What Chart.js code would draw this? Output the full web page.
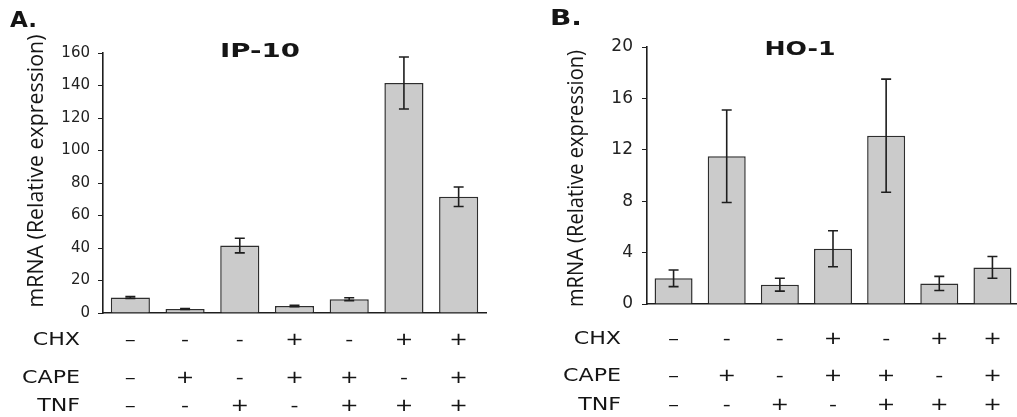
<!DOCTYPE html>
<html lang="en">
<head>
    <meta charset="UTF-8">
    <title>IP-10 / HO-1 mRNA</title>
    <script src="https://cdn.jsdelivr.net/npm/chart.js"></script>
    <style>
        html, body { margin: 0; padding: 0; background: #fff; overflow: hidden; }
        #wrap { position: relative; width: 1017px; height: 417px; overflow: hidden; }
        canvas { position: absolute; top: 0; }
        #chartA { left: 0; }
        #chartB { left: 500px; }
    </style>
</head>
<body>
<div id="wrap">
    <canvas id="chartA" width="500" height="417"></canvas>
    <canvas id="chartB" width="540" height="417"></canvas>
</div>

<script>
    // conditions (same for both panels)
    const categories = ['1', '2', '3', '4', '5', '6', '7'];
    const rowLabels = ['CHX', 'CAPE', 'TNF'];
    const chx  = ['–', '-', '-', '+', '-', '+', '+'];
    const cape = ['–', '+', '-', '+', '+', '-', '+'];
    const tnf  = ['–', '-', '+', '-', '+', '+', '+'];

    // panel A: IP-10
    const ip10Values = [9.5, 2.5, 41.5, 4.3, 8.5, 141.5, 71.5];
    const ip10Errors = [0.6, 0.3, 4.5, 0.4, 0.9, 16, 6];
    const ip10Ticks = { max: 160, step: 20 };

    // panel B: HO-1
    const ho1Values = [2.0, 11.5, 1.5, 4.3, 13.1, 1.6, 2.85];
    const ho1Errors = [0.65, 3.6, 0.5, 1.4, 4.4, 0.55, 0.85];
    const ho1Ticks = { max: 20, step: 4 };

    const ink = '#151515';

    // draw text stretched to a given width
    function fitText(ctx, text, x, y, width, align) {
        const w = ctx.measureText(text).width;
        ctx.save();
        ctx.translate(x, y);
        ctx.scale(width / w, 1);
        ctx.textAlign = align;
        ctx.fillText(text, 0, 0);
        ctx.restore();
    }

    // error bars, sign table and labels
    function decorPlugin(d) {
        return {
            id: 'decor',
            afterDatasetsDraw: (chart) => {
                const { ctx, scales: { x, y } } = chart;
                const ds = chart.data.datasets[0];
                ctx.save();
                ctx.strokeStyle = '#1e1e1e';
                ctx.lineWidth = 1.6;
                ds.data.forEach((v, i) => {
                    const e = d.errors[i];
                    const cx = x.getPixelForValue(i);
                    const top = y.getPixelForValue(v + e);
                    const bot = y.getPixelForValue(v - e);
                    ctx.beginPath();
                    ctx.moveTo(cx, top); ctx.lineTo(cx, bot);
                    ctx.moveTo(cx - 5, top); ctx.lineTo(cx + 5, top);
                    ctx.moveTo(cx - 5, bot); ctx.lineTo(cx + 5, bot);
                    ctx.stroke();
                });
                ctx.restore();
            },
            afterDraw: (chart) => {
                const { ctx, scales: { x } } = chart;
                ctx.save();
                ctx.fillStyle = ink;
                ctx.textBaseline = 'middle';

                // panel letter
                ctx.font = 'bold 21px "DejaVu Sans"';
                fitText(ctx, d.letter, d.letterX, d.letterY, d.letterW, 'left');

                // gene title
                ctx.font = 'bold 20px "DejaVu Sans"';
                fitText(ctx, d.title, d.titleX, d.titleY, d.titleW, 'center');

                // y axis title
                ctx.font = '21px "Open Sans"';
                ctx.textBaseline = 'alphabetic';
                const yt = 'mRNA (Relative expression)';
                const w = ctx.measureText(yt).width;
                ctx.save();
                ctx.translate(d.yTitleX, d.yTitleY);
                ctx.rotate(-Math.PI / 2);
                ctx.scale(d.yTitleLen / w, 1);
                ctx.textAlign = 'center';
                ctx.fillText(yt, 0, 0);
                ctx.restore();

                // treatment table
                ctx.font = '18px "DejaVu Sans"';
                ctx.textBaseline = 'middle';
                const s = 58 / ctx.measureText('CAPE').width;
                const rows = [chx, cape, tnf];
                rows.forEach((row, r) => {
                    const ry = d.rowY[r];
                    ctx.save();
                    ctx.translate(d.labelRight, ry);
                    ctx.scale(s, 1);
                    ctx.textAlign = 'right';
                    ctx.fillText(rowLabels[r], 0, 0);
                    ctx.restore();
                    row.forEach((sign, i) => {
                        ctx.save();
                        ctx.translate(x.getPixelForValue(i), ry);
                        ctx.scale(s, 1);
                        ctx.textAlign = 'center';
                        ctx.fillText(sign, 0, 0);
                        ctx.restore();
                    });
                });
                ctx.restore();
            }
        };
    }

    function makeChart(id, values, ticks, layout, tickFont, tickPad, decor) {
        return new Chart(document.getElementById(id), {
            type: 'bar',
            data: {
                labels: categories,
                datasets: [{
                    data: values,
                    backgroundColor: '#cbcbcb',
                    borderColor: '#2e2e2e',
                    borderWidth: 1.5,
                    barPercentage: 0.715,
                    categoryPercentage: 1
                }]
            },
            options: {
                responsive: false,
                animation: false,
                layout: { padding: layout.padding },
                plugins: { legend: { display: false }, tooltip: { enabled: false } },
                scales: {
                    x: {
                        grid: { display: true, drawOnChartArea: false, drawTicks: false },
                        border: { display: true, color: '#1e1e1e', width: 1.6 },
                        ticks: { display: false },
                        afterFit: (scale) => { scale.height = 0; }
                    },
                    y: {
                        min: 0,
                        max: ticks.max,
                        grid: { drawOnChartArea: false, drawTicks: true, tickLength: 5, color: '#1e1e1e' },
                        border: { display: true, color: '#1e1e1e', width: 1.6 },
                        ticks: {
                            stepSize: ticks.step,
                            color: '#222',
                            padding: tickPad,
                            font: { family: 'DejaVu Sans', size: tickFont }
                        },
                        afterFit: (scale) => { scale.width = layout.yWidth; }
                    }
                }
            },
            plugins: [decorPlugin(decor)]
        });
    }

    makeChart('chartA', ip10Values, ip10Ticks,
        { padding: { top: 53, bottom: 104, right: 14, left: 0 }, yWidth: 103 }, 15, 8, {
            errors: ip10Errors,
            letter: 'A.', letterX: 10, letterY: 22, letterW: 27,
            title: 'IP-10', titleX: 260, titleY: 51.5, titleW: 80,
            yTitleX: 43, yTitleY: 171, yTitleLen: 273,
            labelRight: 80, rowY: [340.5, 378, 406.5]
        });

    makeChart('chartB', ho1Values, ho1Ticks,
        { padding: { top: 47, bottom: 113, right: 21, left: 0 }, yWidth: 147 }, 17, 9, {
            errors: ho1Errors,
            letter: 'B.', letterX: 50, letterY: 20, letterW: 32,
            title: 'HO-1', titleX: 300, titleY: 50, titleW: 71,
            yTitleX: 83, yTitleY: 178.5, yTitleLen: 257,
            labelRight: 121, rowY: [339.5, 376, 405.5]
        });
</script>
</body>
</html>
